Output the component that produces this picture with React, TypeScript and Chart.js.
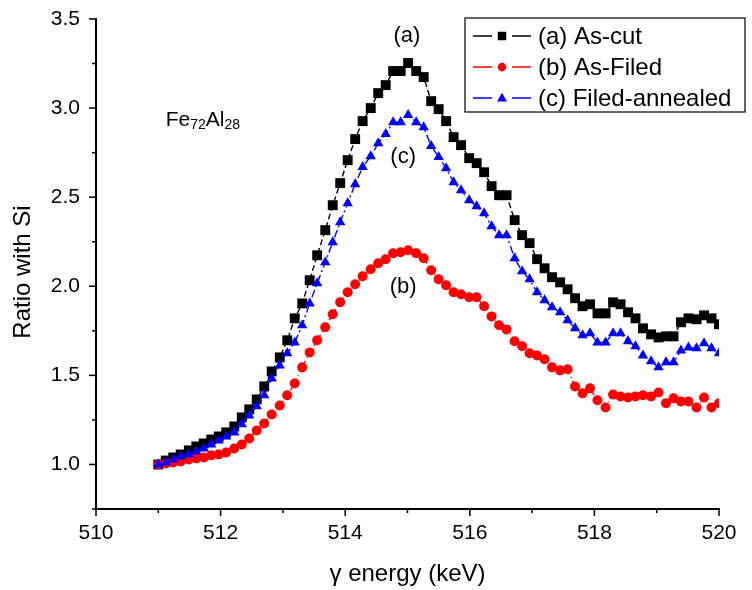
import React, { useEffect, useRef } from "react";
import { Chart, registerables } from "chart.js";

Chart.register(...registerables);

const energies = [
  511.0, 511.12, 511.24, 511.36, 511.49, 511.61, 511.73, 511.85, 511.97, 512.09,
  512.22, 512.34, 512.46, 512.58, 512.7, 512.82, 512.95, 513.07, 513.19, 513.31,
  513.43, 513.55, 513.68, 513.8, 513.92, 514.04, 514.16, 514.28, 514.41, 514.53,
  514.65, 514.77, 514.89, 515.01, 515.14, 515.26, 515.38, 515.5, 515.62, 515.74,
  515.86, 515.99, 516.11, 516.23, 516.35, 516.47, 516.59, 516.72, 516.84, 516.96,
  517.08, 517.2, 517.32, 517.45, 517.57, 517.69, 517.81, 517.93, 518.05, 518.18,
  518.3, 518.42, 518.54, 518.66, 518.78, 518.91, 519.03, 519.15, 519.27, 519.39,
  519.51, 519.64, 519.76, 519.88, 520.0,
];

const asCut = [
  1.0, 1.022, 1.039, 1.056, 1.079, 1.101, 1.118, 1.14, 1.157, 1.18,
  1.213, 1.264, 1.309, 1.365, 1.438, 1.522, 1.601, 1.697, 1.82, 1.904,
  2.034, 2.174, 2.315, 2.455, 2.579, 2.708, 2.826, 2.927, 3.0, 3.084,
  3.129, 3.208, 3.208, 3.253, 3.208, 3.174, 3.039, 2.994, 2.927, 2.837,
  2.792, 2.719, 2.691, 2.64, 2.562, 2.511, 2.511, 2.371, 2.287, 2.242,
  2.152, 2.101, 2.051, 2.022, 1.983, 1.933, 1.888, 1.899, 1.848, 1.848,
  1.91, 1.899, 1.854, 1.82, 1.764, 1.73, 1.713, 1.719, 1.719, 1.798,
  1.82, 1.815, 1.837, 1.82, 1.787,
];

const asFiled = [
  1.0, 1.006, 1.011, 1.017, 1.028, 1.034, 1.039, 1.051, 1.056, 1.067,
  1.09, 1.112, 1.146, 1.191, 1.23, 1.281, 1.331, 1.388, 1.455, 1.545,
  1.629, 1.697, 1.77, 1.843, 1.91, 1.966, 2.011, 2.056, 2.096, 2.129,
  2.152, 2.185, 2.191, 2.202, 2.185, 2.157, 2.09, 2.039, 2.006, 1.966,
  1.955, 1.938, 1.938, 1.888, 1.831, 1.781, 1.758, 1.691, 1.663, 1.624,
  1.612, 1.59, 1.545, 1.528, 1.534, 1.438, 1.399, 1.427, 1.36, 1.32,
  1.393, 1.382, 1.376, 1.382, 1.388, 1.382, 1.404, 1.343, 1.371, 1.354,
  1.354, 1.32, 1.376, 1.32, 1.343,
];

const filedAnnealed = [
  1.0, 1.011, 1.028, 1.045, 1.056, 1.073, 1.09, 1.112, 1.135, 1.157,
  1.18, 1.225, 1.275, 1.326, 1.388, 1.483, 1.556, 1.624, 1.685, 1.781,
  1.904, 2.017, 2.135, 2.247, 2.36, 2.466, 2.573, 2.669, 2.73, 2.803,
  2.854, 2.921, 2.921, 2.961, 2.921, 2.893, 2.787, 2.725, 2.663, 2.584,
  2.539, 2.483, 2.449, 2.41, 2.337, 2.287, 2.287, 2.157, 2.084, 2.039,
  1.966, 1.921, 1.882, 1.854, 1.809, 1.764, 1.725, 1.736, 1.685, 1.685,
  1.736, 1.736, 1.691, 1.663, 1.612, 1.579, 1.545, 1.573, 1.573, 1.64,
  1.657, 1.652, 1.68, 1.652, 1.624,
];

const seriesLabels = ["(a) As-cut", "(b) As-Filed", "(c) Filed-annealed"];
const seriesColors = ["#000000", "#ff0000", "#0000ff"];
const seriesMarkers = ["rect", "circle", "triangle"];

const curveTags = [
  { text: "(a)", x: 514.99, y: 3.404 },
  { text: "(c)", x: 514.93, y: 2.725 },
  { text: "(b)", x: 514.93, y: 1.994 },
];

const sampleLabel = { main1: "Fe", sub1: "72", main2: "Al", sub2: "28", x: 511.12, y: 2.899 };

const xTitle = "γ energy (keV)";
const yTitle = "Ratio with Si";

const FONT = "'Liberation Sans', Arial, sans-serif";

function isMajorX(v: number) {
  return Math.abs(v / 2 - Math.round(v / 2)) < 1e-6;
}
function isMajorY(v: number) {
  return Math.abs(v * 2 - Math.round(v * 2)) < 1e-6;
}

function drawMarker(ctx: CanvasRenderingContext2D, kind: string, x: number, y: number, s: number) {
  ctx.beginPath();
  if (kind === "rect") {
    ctx.rect(x - s / 2, y - s / 2, s, s);
  } else if (kind === "circle") {
    ctx.arc(x, y, s / 2, 0, Math.PI * 2);
  } else {
    const h = s * 0.87;
    ctx.moveTo(x, y - h * 0.6);
    ctx.lineTo(x + s / 2, y + h * 0.4);
    ctx.lineTo(x - s / 2, y + h * 0.4);
    ctx.closePath();
  }
  ctx.fill();
}

const decorPlugin = {
  id: "decor",
  afterDraw(chart: any) {
    const ctx: CanvasRenderingContext2D = chart.ctx;
    const xs = chart.scales.x;
    const ys = chart.scales.y;
    const area = chart.chartArea;
    ctx.save();
    // tick marks
    ctx.strokeStyle = "#000";
    ctx.lineWidth = 1.5;
    xs.ticks.forEach((t: any) => {
      const px = xs.getPixelForValue(t.value);
      const len = isMajorX(t.value) ? 7 : 4;
      ctx.beginPath();
      ctx.moveTo(px, area.bottom);
      ctx.lineTo(px, area.bottom + len);
      ctx.stroke();
    });
    ys.ticks.forEach((t: any) => {
      const py = ys.getPixelForValue(t.value);
      const len = isMajorY(t.value) ? 7 : 4;
      ctx.beginPath();
      ctx.moveTo(area.left, py);
      ctx.lineTo(area.left - len, py);
      ctx.stroke();
    });

    // axis titles
    ctx.fillStyle = "#000";
    ctx.font = `24px ${FONT}`;
    ctx.textAlign = "center";
    ctx.textBaseline = "middle";
    ctx.fillText(xTitle, (area.left + area.right) / 2, 574);
    ctx.save();
    ctx.translate(23, 272);
    ctx.rotate(-Math.PI / 2);
    ctx.fillText(yTitle, 0, 0);
    ctx.restore();

    // curve tags
    ctx.font = `22px ${FONT}`;
    curveTags.forEach((c) => {
      ctx.fillText(c.text, xs.getPixelForValue(c.x), ys.getPixelForValue(c.y));
    });

    // sample label with subscripts
    ctx.textAlign = "left";
    ctx.textBaseline = "alphabetic";
    let cx = xs.getPixelForValue(sampleLabel.x);
    const by = ys.getPixelForValue(sampleLabel.y);
    const parts = [
      { t: sampleLabel.main1, sub: false },
      { t: sampleLabel.sub1, sub: true },
      { t: sampleLabel.main2, sub: false },
      { t: sampleLabel.sub2, sub: true },
    ];
    parts.forEach((p) => {
      ctx.font = p.sub ? `14px ${FONT}` : `21px ${FONT}`;
      ctx.fillText(p.t, cx, p.sub ? by + 3 : by);
      cx += ctx.measureText(p.t).width;
    });

    // legend
    const lx = 465, ly = 18, lw = 280, lh = 94;
    ctx.strokeStyle = "#000";
    ctx.lineWidth = 1.2;
    ctx.strokeRect(lx, ly, lw, lh);
    ctx.font = `24px ${FONT}`;
    ctx.textBaseline = "middle";
    chart.data.datasets.forEach((ds: any, i: number) => {
      const rowY = ly + 18 + i * 31;
      ctx.strokeStyle = ds.borderColor;
      ctx.fillStyle = ds.borderColor;
      ctx.lineWidth = 1.5;
      ctx.beginPath();
      ctx.moveTo(lx + 8, rowY);
      ctx.lineTo(lx + 27, rowY);
      ctx.moveTo(lx + 47, rowY);
      ctx.lineTo(lx + 66, rowY);
      ctx.stroke();
      drawMarker(ctx, ds.pointStyle, lx + 37, rowY, ds.pointStyle === "triangle" ? 10 : 8.5);
      ctx.fillStyle = "#000";
      ctx.fillText(ds.label, lx + 73, rowY + 1);
    });
    ctx.restore();
  },
};

export default function App() {
  const ref = useRef<HTMLCanvasElement | null>(null);

  useEffect(() => {
    document.body.style.margin = "0";
    if (!ref.current) return;
    const allSeries = [asCut, asFiled, filedAnnealed];
    const dashes = [[6, 3], [3, 3, 1, 3], [8, 3, 2, 3]];
    const radii = [7, 5, 6];
    const orders = [2, 1, 0];
    const chart = new Chart(ref.current, {
      type: "line",
      data: {
        datasets: allSeries.map((vals, i) => ({
          label: seriesLabels[i],
          data: vals.map((v, j) => ({ x: energies[j], y: v })),
          borderColor: seriesColors[i],
          backgroundColor: seriesColors[i],
          pointBackgroundColor: seriesColors[i],
          pointBorderColor: seriesColors[i],
          pointBorderWidth: 0,
          pointStyle: seriesMarkers[i],
          pointRadius: radii[i],
          borderWidth: 1.4,
          borderDash: dashes[i],
          tension: 0,
          fill: false,
          order: orders[i],
        })),
      },
      options: {
        animation: false,
        responsive: false,
        maintainAspectRatio: false,
        layout: { padding: { top: 19, right: 33, left: 0, bottom: 0 } },
        plugins: {
          legend: { display: false },
          tooltip: { enabled: false },
          title: { display: false },
        },
        scales: {
          x: {
            type: "linear",
            min: 510,
            max: 520,
            afterFit: (s: any) => {
              s.height = 81;
              s.paddingLeft = 0;
              s.paddingRight = 0;
            },
            ticks: {
              stepSize: 1,
              autoSkip: false,
              maxRotation: 0,
              padding: 12,
              color: "#000",
              font: { family: FONT, size: 21 },
              callback: (v: any) => (isMajorX(Number(v)) ? String(v) : ""),
            },
            grid: { display: true, drawOnChartArea: false, drawTicks: false },
            border: { display: true, color: "#000", width: 2 },
          },
          y: {
            type: "linear",
            min: 0.75,
            max: 3.5,
            afterFit: (s: any) => {
              s.width = 96;
              s.paddingTop = 0;
              s.paddingBottom = 0;
            },
            ticks: {
              stepSize: 0.25,
              autoSkip: false,
              padding: 16,
              color: "#000",
              font: { family: FONT, size: 21 },
              callback: (v: any) => (isMajorY(Number(v)) ? Number(v).toFixed(1) : ""),
            },
            grid: { display: true, drawOnChartArea: false, drawTicks: false },
            border: { display: true, color: "#000", width: 2 },
          },
        },
      },
      plugins: [decorPlugin],
    });
    return () => chart.destroy();
  }, []);

  return (
    <div style={{ width: 752, height: 590, background: "#fff" }}>
      <canvas ref={ref} width={752} height={590} style={{ display: "block" }} />
    </div>
  );
}
